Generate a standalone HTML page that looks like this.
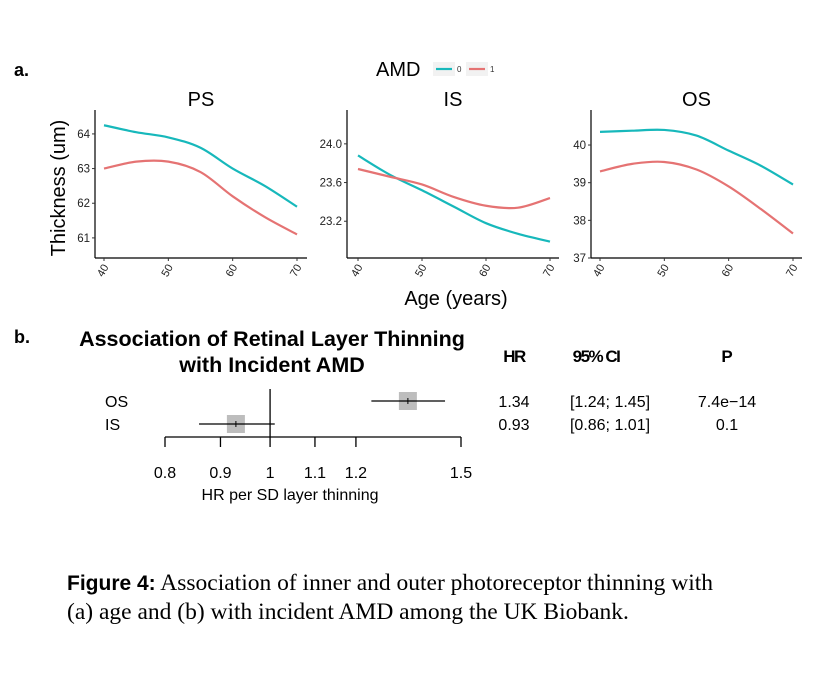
<!DOCTYPE html>
<html><head><meta charset="utf-8"><style>
body{margin:0;background:#fff;}
svg text{font-family:"Liberation Sans",Arial,sans-serif;}
svg text.serif{font-family:"Liberation Serif","Times New Roman",serif;}
svg tspan.sansb{font-family:"Liberation Sans",Arial,sans-serif;font-weight:bold;}
</style></head><body>
<svg id="fig" width="816" height="677" viewBox="0 0 816 677" xmlns="http://www.w3.org/2000/svg">
<text x="14" y="76" font-size="18" font-weight="bold">a.</text>
<text x="14" y="343" font-size="18" font-weight="bold">b.</text>
<g>
<text x="376" y="76" font-size="20">AMD</text>
<rect x="433" y="62" width="22" height="14" fill="#f2f2f2"/>
<line x1="436" y1="69" x2="452" y2="69" stroke="#17b8bb" stroke-width="2.2"/>
<text x="457" y="72" font-size="8" fill="#333">0</text>
<rect x="466" y="62" width="22" height="14" fill="#f2f2f2"/>
<line x1="469" y1="69" x2="485" y2="69" stroke="#e57373" stroke-width="2.2"/>
<text x="490" y="72" font-size="8" fill="#333">1</text>
</g>
<text x="0" y="0" transform="translate(65,188) rotate(-90)" text-anchor="middle" font-size="20">Thickness (um)</text>
<text x="456" y="305" text-anchor="middle" font-size="20">Age (years)</text>
<g id="panels"></g>
<g>
<text x="272" y="346" text-anchor="middle" font-size="21.5" font-weight="bold">Association of Retinal Layer Thinning</text>
<text x="272" y="372" text-anchor="middle" font-size="21.5" font-weight="bold">with Incident AMD</text>
<text x="514" y="362" text-anchor="middle" font-size="17" font-weight="bold" letter-spacing="-1.5">HR</text>
<text x="596" y="362" text-anchor="middle" font-size="17" font-weight="bold" letter-spacing="-1.5">95% CI</text>
<text x="727" y="362" text-anchor="middle" font-size="17" font-weight="bold">P</text>
<g id="forest"></g>
<text x="290" y="500" text-anchor="middle" font-size="16">HR per SD layer thinning</text>
</g>
<text class="serif" x="67" y="590" font-size="23.5"><tspan class="sansb" font-size="21">Figure 4:</tspan> Association of inner and outer photoreceptor thinning with</text>
<text class="serif" x="67" y="619" font-size="23.5">(a) age and (b) with incident AMD among the UK Biobank.</text>
</svg>
<script>
const ages=[40,45,50,55,60,65,70];
const psNo=[64.25,64.05,63.9,63.6,63.0,62.5,61.9];
const psYes=[63.0,63.2,63.2,62.9,62.2,61.6,61.1];
const isNo=[23.88,23.68,23.52,23.35,23.18,23.07,22.99];
const isYes=[23.74,23.66,23.58,23.45,23.36,23.34,23.44];
const osNo=[40.35,40.38,40.4,40.25,39.85,39.45,38.95];
const osYes=[39.3,39.5,39.55,39.35,38.9,38.3,37.65];
const psTicks=[61,62,63,64];
const isTicks=["23.2","23.6","24.0"];
const osTicks=[37,38,39,40];
const xTicks=[40,50,60,70];
const forestLabels=["OS","IS"];
const forestHR=[1.34,0.93];
const forestLo=[1.24,0.86];
const forestHi=[1.45,1.01];
const forestCI=["[1.24; 1.45]","[0.86; 1.01]"];
const forestP=["7.4e\u221214","0.1"];
const forestTicks=[0.8,0.9,1,1.1,1.2,1.5];

const NS="http://www.w3.org/2000/svg";
function mk(tag,attrs,parent){const e=document.createElementNS(NS,tag);for(const k in attrs)e.setAttribute(k,attrs[k]);parent.appendChild(e);return e;}
const panelsG=document.getElementById('panels');
const panels=[
 {name:'PS',ax:95,x0:104,x1:297,right:307,ymin:60.42,ymax:64.69,ticks:psTicks,no:psNo,yes:psYes},
 {name:'IS',ax:347,x0:358,x1:550,right:559,ymin:22.82,ymax:24.35,ticks:isTicks,no:isNo,yes:isYes},
 {name:'OS',ax:591,x0:600,x1:793,right:802,ymin:37,ymax:40.93,ticks:osTicks,no:osNo,yes:osYes}];
const plotTop=110,plotBot=258;
panels.forEach(p=>{
 const g=mk('g',{},panelsG);
 
 
 const xs=a=>p.x0+(a-40)/30*(p.x1-p.x0);
 const ys=v=>plotBot-(v-p.ymin)/(p.ymax-p.ymin)*(plotBot-plotTop);
 const t=mk('text',{x:(p.ax+p.right)/2,y:106,'text-anchor':'middle','font-size':20},g);t.textContent=p.name;
 
 
 mk('line',{x1:p.ax,y1:plotTop,x2:p.ax,y2:plotBot,stroke:'#000','stroke-width':1.2},g);
 mk('line',{x1:p.ax,y1:plotBot,x2:p.right,y2:plotBot,stroke:'#000','stroke-width':1.2},g);
 p.ticks.forEach(v=>{const y=ys(+v);
  mk('line',{x1:p.ax-3,y1:y,x2:p.ax,y2:y,stroke:'#333'},g);
  const tt=mk('text',{x:p.ax-5,y:y+4,'text-anchor':'end','font-size':11.5,fill:'#222'},g);tt.textContent=v;
  
  });
 xTicks.forEach(a=>{const x=xs(a);
  mk('line',{x1:x,y1:plotBot,x2:x,y2:plotBot+3,stroke:'#333'},g);
  const tt=mk('text',{x:0,y:0,transform:`translate(${x+5},${plotBot+9}) rotate(-60)`,'text-anchor':'end','font-size':11,fill:'#222'},g);tt.textContent=a;
  
  });
 [[p.no,'#17b8bb','no-amd'],[p.yes,'#e57373','amd']].forEach(([arr,c,n])=>{
  const pts=arr.map((v,i)=>[xs(ages[i]),ys(v)]);
  let d='M'+pts[0].join(',');
  for(let i=0;i<pts.length-1;i++){const p0=pts[Math.max(i-1,0)],p1=pts[i],p2=pts[i+1],p3=pts[Math.min(i+2,pts.length-1)];
   d+=` C${p1[0]+(p2[0]-p0[0])/6},${p1[1]+(p2[1]-p0[1])/6} ${p2[0]-(p3[0]-p1[0])/6},${p2[1]-(p3[1]-p1[1])/6} ${p2[0]},${p2[1]}`;}
  const l=mk('path',{d:d,fill:'none',stroke:c,'stroke-width':2.2},g);
  
  });
});
const fg=document.getElementById('forest');
const fx0=165,fx1=461,lmin=Math.log(0.8),lmax=Math.log(1.5);
const fxs=v=>fx0+(Math.log(v)-lmin)/(lmax-lmin)*(fx1-fx0);
const axY=437;
mk('line',{x1:fx0,y1:axY,x2:fx1,y2:axY,stroke:'#000','stroke-width':1.3},fg);
forestTicks.forEach(v=>{const x=fxs(v);
 mk('line',{x1:x,y1:axY,x2:x,y2:axY+10,stroke:'#000','stroke-width':1.3},fg);
 const t=mk('text',{x:x,y:478,'text-anchor':'middle','font-size':16},fg);t.textContent=String(v);
 
 });
mk('line',{x1:fxs(1),y1:389,x2:fxs(1),y2:axY,stroke:'#000','stroke-width':1.3},fg);
const rowY=[401,424];
forestHR.forEach((hr,i)=>{const y=rowY[i];
 const lab=mk('text',{x:105,y:y+6,'font-size':16},fg);lab.textContent=forestLabels[i];
 
 
 const b=mk('rect',{x:fxs(hr)-9,y:y-9,width:18,height:18,fill:'#bdbdbd'},fg);
 
 
 const l=mk('line',{x1:fxs(forestLo[i]),y1:y,x2:fxs(forestHi[i]),y2:y,stroke:'#000','stroke-width':1.2},fg);
 
 
 mk('line',{x1:fxs(hr),y1:y-3,x2:fxs(hr),y2:y+3,stroke:'#000'},fg);
 const a=mk('text',{x:514,y:y+6,'text-anchor':'middle','font-size':16},fg);a.textContent=hr.toFixed(2);
 
 
 const c=mk('text',{x:610,y:y+6,'text-anchor':'middle','font-size':16},fg);c.textContent=forestCI[i];
 
 
 const pp=mk('text',{x:727,y:y+6,'text-anchor':'middle','font-size':16},fg);pp.textContent=forestP[i];
 
 
});
</script>
</body></html>
